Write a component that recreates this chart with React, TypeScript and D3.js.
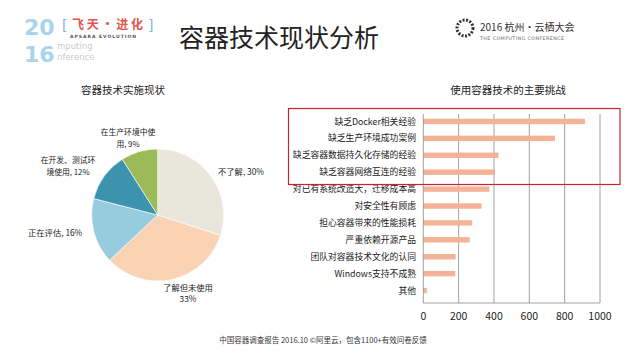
import React from "react";
import * as d3 from "d3";

const pieLabels = ["不了解", "了解但未使用", "正在评估", "在开发、测试环境使用", "在生产环境中使用"];
const pieValues = [30, 33, 16, 12, 9];
const pieColors = ["#E9E6DB", "#F9D3B3", "#97CCDE", "#3C93AE", "#9BBB59"];

const barCategories = [
  "缺乏Docker相关经验",
  "缺乏生产环境成功案例",
  "缺乏容器数据持久化存储的经验",
  "缺乏容器网络互连的经验",
  "对已有系统改造大，迁移成本高",
  "对安全性有顾虑",
  "担心容器带来的性能损耗",
  "严重依赖开源产品",
  "团队对容器技术文化的认同",
  "Windows支持不成熟",
  "其他",
];
const barValues = [915, 745, 425, 406, 374, 330, 277, 262, 183, 181, 20];
const xTicks = [0, 200, 400, 600, 800, 1000];

const FONT = "'Noto Sans CJK SC', 'Noto Sans', sans-serif";
const LATIN = "'DejaVu Sans', sans-serif";

export default function App() {
  const W = 638, H = 359;
  const cx = 157.7, cy = 215, r = 66;
  const pie = d3.pie<number>().sort(null).value((d) => d)(pieValues);
  const arc = d3.arc<d3.PieArcDatum<number>>().innerRadius(0).outerRadius(r);

  const x = d3.scaleLinear().domain([0, 1000]).range([423.3, 600]);
  const y = d3.scaleBand<string>().domain(barCategories).range([113, 299]).paddingInner(0.68).paddingOuter(0.34);
  const plotTop = 114, plotBottom = 303;

  return (
    <svg width={W} height={H} style={{ position: "absolute", left: 0, top: 0, fontFamily: FONT }}>
      <rect width={W} height={H} fill="#fff" />
      <g>
        <text x={24} y={35} fontSize={22} fontWeight={700} fill="#A8D4EC" fontFamily={LATIN}>20</text>
        <text x={24} y={62} fontSize={22} fontWeight={700} fill="#A8D4EC" fontFamily={LATIN}>16</text>
        <text x={62} y={30} fontSize={14} fill="#7FB8DA" fontFamily={LATIN}>[</text>
        <text x={72} y={29} fontSize={12} fontWeight={700} fill="#E2574C">飞 天 · 进 化</text>
        <text x={148} y={30} fontSize={14} fill="#7FB8DA" fontFamily={LATIN}>]</text>
        <text x={70} y={38} fontSize={4.5} fontWeight={700} fill="#555" letterSpacing={1} fontFamily={LATIN}>APSARA  EVOLUTION</text>
        <text x={57} y={49} fontSize={8.5} fill="#C8CDD2" fontFamily={LATIN}>mputing</text>
        <text x={57} y={60} fontSize={8.5} fill="#C8CDD2" fontFamily={LATIN}>nference</text>
      </g>
      <text x={279} y={47} fontSize={25} textAnchor="middle" fill="#222">容器技术现状分析</text>
      <g>
        <circle cx={465} cy={28} r={8} fill="none" stroke="#333" strokeWidth={3} strokeDasharray="2 1.5" />
        <text x={480} y={31} fontSize={10} fill="#333">2016 杭州·云栖大会</text>
        <text x={480} y={40} fontSize={4.8} fill="#666" letterSpacing={0.4} fontFamily={LATIN}>THE COMPUTING CONFERENCE</text>
      </g>

      <text x={123} y={94} fontSize={10.5} textAnchor="middle" fill="#222">容器技术实施现状</text>
      <g transform={`translate(${cx},${cy})`}>
        {pie.map((d, i) => (
          <path key={i} d={arc(d) || ""} fill={pieColors[i]} stroke="#fff" strokeWidth={0.6} />
        ))}
      </g>
      <g fontSize={8.3} fill="#222">
        <text x={218} y={175}>{pieLabels[0]}, {pieValues[0]}%</text>
        <text x={188} y={291} textAnchor="middle">{pieLabels[1]}</text>
        <text x={188} y={302} textAnchor="middle">{pieValues[1]}%</text>
        <text x={28} y={236}>{pieLabels[2]}, {pieValues[2]}%</text>
      </g>
      <g fontSize={7.8} fill="#222">
        <text x={68} y={163} textAnchor="middle">在开发、测试环</text>
        <text x={68} y={174.5} textAnchor="middle">境使用, {pieValues[3]}%</text>
        <text x={128} y={135} textAnchor="middle">在生产环境中使</text>
        <text x={128} y={146.5} textAnchor="middle">用, {pieValues[4]}%</text>
      </g>

      <text x={508} y={94} fontSize={10.5} textAnchor="middle" fill="#222">使用容器技术的主要挑战</text>
      {xTicks.map((t) => (
        <g key={t}>
          {t > 0 && <line x1={x(t)} x2={x(t)} y1={plotTop} y2={plotBottom} stroke="#8a8a8a" strokeWidth={0.8} />}
          <text x={x(t)} y={320} fontSize={10.5} textAnchor="middle" fill="#222">{t}</text>
        </g>
      ))}
      {barCategories.map((c, i) => (
        <g key={c}>
          <rect x={x(0)} y={y(c)!} width={x(barValues[i]) - x(0)} height={y.bandwidth()} fill="#F4B396" />
          <text x={416} y={y(c)! + y.bandwidth() / 2} dy="0.35em" fontSize={8.8} textAnchor="end" fill="#222">{c}</text>
        </g>
      ))}
      <line x1={x(0)} x2={x(0)} y1={plotTop} y2={plotBottom} stroke="#8a8a8a" strokeWidth={0.8} />
      <line x1={x(0)} x2={x(1000)} y1={plotBottom} y2={plotBottom} stroke="#8a8a8a" strokeWidth={0.8} />
      <rect x={288.5} y={108.5} width={331.5} height={76} fill="none" stroke="#C8242B" strokeWidth={1.2} />

      <text x={323} y={343} fontSize={7.5} textAnchor="middle" fill="#333">中国容器调查报告 2016.10 ©阿里云，包含1100+有效问卷反馈</text>
    </svg>
  );
}
